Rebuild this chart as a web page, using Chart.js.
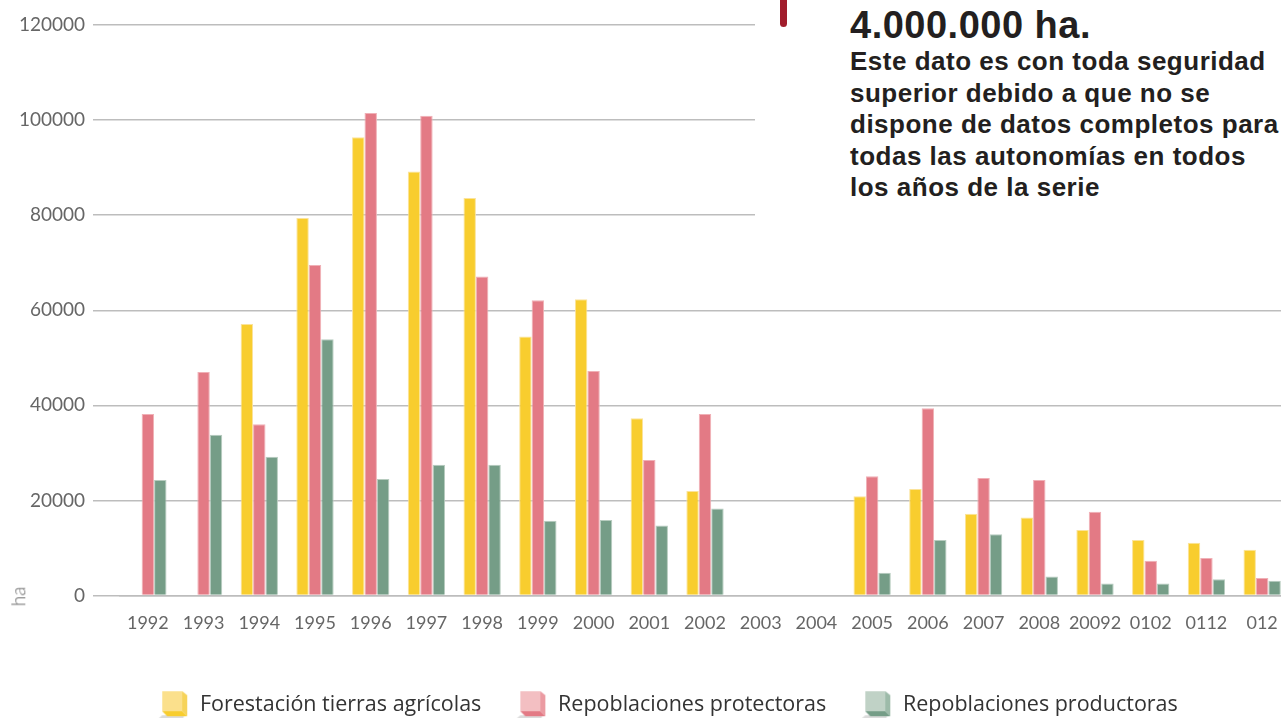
<!DOCTYPE html>
<html lang="es">
<head>
  <meta charset="UTF-8">
  <title>Repoblaciones</title>
  <script src="https://cdn.jsdelivr.net/npm/chart.js@4.4.4/dist/chart.umd.js"></script>
  <style>
    body {
      margin: 0;
      overflow: hidden;
      background: #fff;
      width: 1281px;
      height: 718px;
      position: relative;
    }
    #wrap {
      position: absolute;
      left: 0;
      top: 0;
      width: 1310px;
      height: 726px;
    }
    #note {
      position: absolute;
      left: 755px;
      top: 0;
      width: 600px;
      height: 228px;
      background: #fff;
      color: #231f20;
      font-family: 'Liberation Sans', Arial, sans-serif;
      font-weight: bold;
    }
    #note .big {
      position: absolute;
      left: 95px;
      top: 5px;
      font-size: 38px;
      line-height: 40px;
      letter-spacing: 0.5px;
      white-space: nowrap;
    }
    #note .txt {
      position: absolute;
      left: 95px;
      top: 46px;
      font-size: 26px;
      line-height: 31.5px;
      letter-spacing: 0.5px;
      white-space: nowrap;
    }
    #bracket {
      position: absolute;
      left: 25px;
      top: -6px;
      width: 7px;
      height: 33px;
      background: #a11d2c;
      border-radius: 4px;
    }
    #ha {
      position: absolute;
      left: 8px;
      top: 585px;
      font-family: Lato, sans-serif;
      font-weight: 300;
      font-size: 19px;
      color: #666;
      transform: rotate(-90deg);
    }
  </style>
</head>
<body>
  <div id="wrap"><canvas id="chart"></canvas></div>
  <div id="ha">ha</div>
  <div id="note">
    <div id="bracket"></div>
    <div class="big">4.000.000 ha.</div>
    <div class="txt">Este dato es con toda seguridad<br>superior debido a que no se<br>dispone de datos completos para<br>todas las autonomías en todos<br>los años de la serie</div>
  </div>
<script>
  const years = ['1992', '1993', '1994', '1995', '1996', '1997', '1998', '1999', '2000', '2001', '2002',
    '2003', '2004', '2005', '2006', '2007', '2008', '20092', '0102', '0112', '012'];
  const forestacion = [null, null, 57100, 79400, 96400, 89200, 83600, 54500, 62300, 37300, 22000,
    null, null, 20900, 22400, 17200, 16400, 13800, 11700, 11100, 9600];
  const protectoras = [38200, 47000, 36000, 69500, 101500, 100900, 67100, 62100, 47200, 28500, 38200,
    null, null, 25100, 39400, 24700, 24300, 17600, 7300, 7900, 3700];
  const productoras = [24300, 33800, 29200, 53900, 24500, 27500, 27500, 15700, 15900, 14700, 18300,
    null, null, 4800, 11700, 12900, 4000, 2500, 2500, 3400, 3100];
  const seriesNames = ['Forestación tierras agrícolas', 'Repoblaciones protectoras', 'Repoblaciones productoras'];
  const yTicks = [0, 20000, 40000, 60000, 80000, 100000, 120000];

  // little 3d box used as legend marker
  function cube(front, side, bottom) {
    const c = document.createElement('canvas');
    c.width = 38;
    c.height = 34;
    const g = c.getContext('2d');
    g.fillStyle = 'rgba(190,190,190,0.55)';
    g.beginPath();
    g.moveTo(0, 34); g.lineTo(8, 27); g.lineTo(30, 27); g.lineTo(28, 34);
    g.fill();
    g.fillStyle = front;
    g.fillRect(8, 3, 20, 20);
    g.fillStyle = side;
    g.beginPath();
    g.moveTo(28, 3); g.lineTo(33, 7); g.lineTo(33, 28); g.lineTo(28, 23);
    g.fill();
    g.fillStyle = bottom;
    g.beginPath();
    g.moveTo(8, 23); g.lineTo(28, 23); g.lineTo(33, 28); g.lineTo(13, 28);
    g.fill();
    return c;
  }

  const markers = [
    cube('#fbe08c', '#f6d35a', '#f8cd2e'),
    cube('#f3bfc2', '#eb9ba2', '#e37a85'),
    cube('#c0d2c6', '#9dbba9', '#759d87')
  ];
  const colors = ['#f8cd2e', '#e37a85', '#759d87'];
  const edges = ['#fbe39a', '#f0b0b6', '#b7ccbf'];

  const gridColor = '#bdbdbd';

  // the legend in the original sits a bit right of the canvas centre
  const legendShift = {
    id: 'legendShift',
    afterLayout(chart) {
      chart.legend.left += 15;
      chart.legend.right += 15;
    }
  };

  new Chart('chart', {
    type: 'bar',
    data: {
      labels: years,
      datasets: [forestacion, protectoras, productoras].map((d, i) => ({
        label: seriesNames[i],
        data: d,
        backgroundColor: colors[i],
        borderColor: edges[i],
        borderWidth: 1,
        categoryPercentage: 0.67,
        barPercentage: 1.0
      }))
    },
    plugins: [legendShift],
    options: {
      responsive: true,
      maintainAspectRatio: false,
      animation: false,
      layout: {
        padding: { left: 15, right: 20, top: 25, bottom: 0 }
      },
      plugins: {
        tooltip: { enabled: false },
        legend: {
          position: 'bottom',
          labels: {
            usePointStyle: true,
            pointStyleWidth: 32,
            padding: 34,
            color: '#333',
            font: { family: 'Open Sans', size: 21.5 },
            generateLabels: (chart) => seriesNames.map((n, i) => ({
              text: n,
              pointStyle: markers[i],
              fillStyle: colors[i],
              strokeStyle: colors[i],
              lineWidth: 0,
              hidden: false,
              datasetIndex: i,
              fontColor: '#333'
            }))
          }
        }
      },
      scales: {
        x: {
          afterFit: (s) => { s.height = 65; },
          grid: { display: false },
          border: { display: true, color: gridColor, width: 1.5 },
          ticks: {
            color: '#666',
            padding: 9,
            maxRotation: 0,
            autoSkip: false,
            font: { family: 'Lato', size: 18 }
          }
        },
        y: {
          min: 0,
          max: 120000,
          afterFit: (s) => { s.width = 105; },
          afterBuildTicks: (s) => { s.ticks = yTicks.map(v => ({ value: v })); },
          border: { display: false },
          grid: {
            color: gridColor,
            lineWidth: 1.5,
            tickLength: 27,
            tickColor: gridColor
          },
          ticks: {
            color: '#666',
            padding: 8,
            font: { family: 'Lato', size: 19 },
            callback: (v) => String(v)
          }
        }
      }
    }
  });
</script>
</body>
</html>
